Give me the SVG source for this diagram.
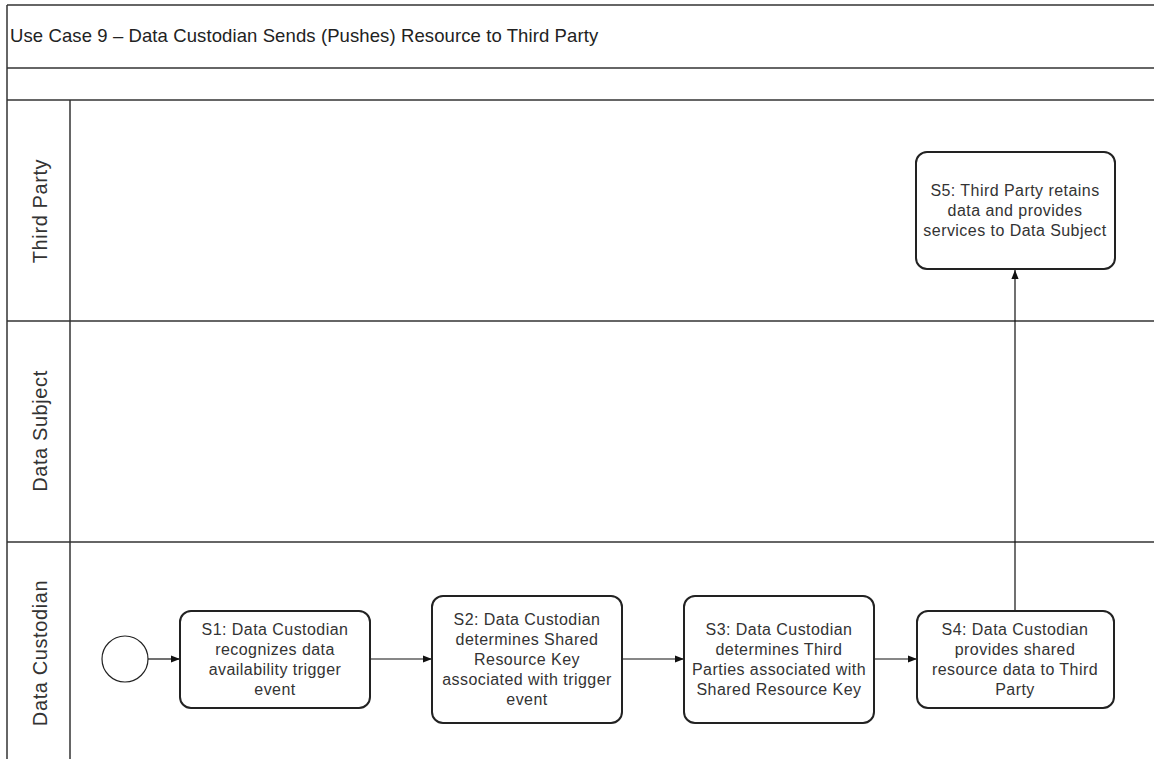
<svg xmlns="http://www.w3.org/2000/svg" width="1154" height="759" viewBox="0 0 1154 759">
<style>
.frame{fill:none;stroke:#333;stroke-width:1.5}
.box{fill:#fff;stroke:#222;stroke-width:2}
.t{font-family:"Liberation Sans",Arial,sans-serif;font-size:16px;letter-spacing:0.45px;fill:#333;text-anchor:middle}
.lane{font-family:"Liberation Sans",Arial,sans-serif;font-size:20px;letter-spacing:0.6px;fill:#333;text-anchor:middle}
.title{font-family:"Liberation Sans",Arial,sans-serif;font-size:18.5px;letter-spacing:0.1px;fill:#222}
.c{fill:none;stroke:#111;stroke-width:1.2;marker-end:url(#ah)}
</style>
<defs>
<marker id="ah" viewBox="0 0 10 10" refX="10" refY="5" markerWidth="9" markerHeight="9" markerUnits="userSpaceOnUse" orient="auto">
<path d="M0,1 L10,5 L0,9 Z" fill="#111"/>
</marker>
</defs>
<rect width="1154" height="759" fill="#fff"/>
<g id="pool">
<line class="frame" x1="7" y1="5" x2="1154" y2="5"/>
<line class="frame" x1="7" y1="5" x2="7" y2="759"/>
<line class="frame" x1="7" y1="68" x2="1154" y2="68"/>
<line class="frame" x1="7" y1="100" x2="1154" y2="100"/>
<line class="frame" x1="7" y1="321" x2="1154" y2="321"/>
<line class="frame" x1="7" y1="542" x2="1154" y2="542"/>
<line class="frame" x1="70" y1="100" x2="70" y2="759"/>
<text class="title" x="10" y="42">Use Case 9 – Data Custodian Sends (Pushes) Resource to Third Party</text>
</g>
<g id="lane-third-party"><text class="lane" transform="translate(47,211) rotate(-90)">Third Party</text></g>
<g id="lane-data-subject"><text class="lane" transform="translate(47,431) rotate(-90)">Data Subject</text></g>
<g id="lane-data-custodian"><text class="lane" transform="translate(47,653) rotate(-90)">Data Custodian</text></g>
<g id="connectors">
<line class="c" x1="148" y1="659" x2="180" y2="659"/>
<line class="c" x1="370" y1="659" x2="432" y2="659"/>
<line class="c" x1="622" y1="659" x2="684" y2="659"/>
<line class="c" x1="874" y1="659" x2="917" y2="659"/>
<line class="c" x1="1015" y1="611" x2="1015" y2="270"/>
</g>
<g id="start"><circle cx="125" cy="659" r="23" fill="#fff" stroke="#222" stroke-width="1.2"/></g>
<g id="s1">
<rect class="box" x="180" y="611" width="190" height="97" rx="11"/>
<text class="t" x="275" y="635">S1: Data Custodian</text>
<text class="t" x="275" y="655">recognizes data</text>
<text class="t" x="275" y="675">availability trigger</text>
<text class="t" x="275" y="695">event</text>
</g>
<g id="s2">
<rect class="box" x="432" y="596" width="190" height="127" rx="11"/>
<text class="t" x="527" y="625">S2: Data Custodian</text>
<text class="t" x="527" y="645">determines Shared</text>
<text class="t" x="527" y="665">Resource Key</text>
<text class="t" x="527" y="685">associated with trigger</text>
<text class="t" x="527" y="705">event</text>
</g>
<g id="s3">
<rect class="box" x="684" y="596" width="190" height="127" rx="11"/>
<text class="t" x="779" y="635">S3: Data Custodian</text>
<text class="t" x="779" y="655">determines Third</text>
<text class="t" x="779" y="675">Parties associated with</text>
<text class="t" x="779" y="695">Shared Resource Key</text>
</g>
<g id="s4">
<rect class="box" x="917" y="611" width="197" height="97" rx="11"/>
<text class="t" x="1015" y="635">S4: Data Custodian</text>
<text class="t" x="1015" y="655">provides shared</text>
<text class="t" x="1015" y="675">resource data to Third</text>
<text class="t" x="1015" y="695">Party</text>
</g>
<g id="s5">
<rect class="box" x="916" y="152" width="199" height="117" rx="11"/>
<text class="t" x="1015" y="196">S5: Third Party retains</text>
<text class="t" x="1015" y="216">data and provides</text>
<text class="t" x="1015" y="236">services to Data Subject</text>
</g>
</svg>
